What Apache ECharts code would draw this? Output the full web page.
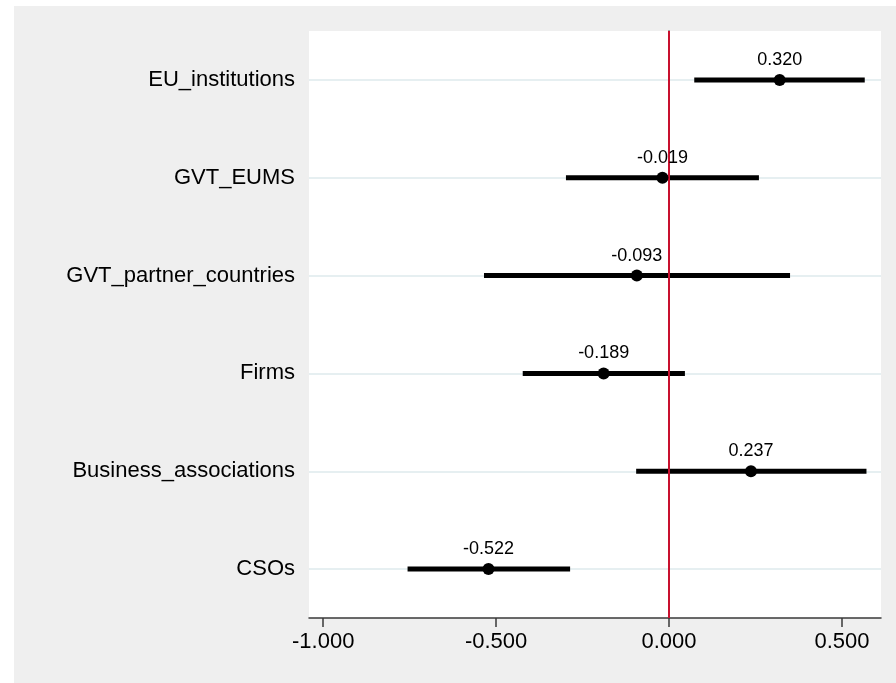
<!DOCTYPE html>
<html>
<head>
<meta charset="utf-8">
<script src="https://cdn.jsdelivr.net/npm/echarts@6/dist/echarts.min.js"></script>
<style>html,body{margin:0;padding:0;background:#fff}#c{width:896px;height:683px}</style>
</head>
<body>
<div id="c"></div>
<script>
// Categories, top to bottom
const categories = ['EU_institutions', 'GVT_EUMS', 'GVT_partner_countries', 'Firms', 'Business_associations', 'CSOs'];
// Point estimates
const estimates = [0.320, -0.019, -0.093, -0.189, 0.237, -0.522];
// Confidence interval lower / upper bounds
const ciLower = [0.073, -0.298, -0.535, -0.423, -0.095, -0.756];
const ciUpper = [0.566, 0.260, 0.350, 0.046, 0.571, -0.286];
// X axis tick labels
const xTicks = [-1.0, -0.5, 0.0, 0.5];

const FONT = '"Liberation Sans", Arial, Helvetica, sans-serif';
const chart = echarts.init(document.getElementById('c'), null, {renderer: 'canvas'});

const ciData = categories.map((c, i) => [ciLower[i], ciUpper[i], c]);
const ptData = categories.map((c, i) => [estimates[i], c]);

chart.setOption({
  backgroundColor: '#ffffff',
  animation: false,
  graphic: [{
    type: 'rect', z: -100, silent: true,
    shape: {x: 14, y: 6, width: 882, height: 677},
    style: {fill: '#efefef'}
  }],
  grid: {left: 309, right: 15, top: 31, bottom: 65, show: true, backgroundColor: '#ffffff', borderWidth: 0},
  xAxis: {
    type: 'value', min: -1.041, max: 0.613,
    axisLine: {show: true, onZero: false, lineStyle: {color: '#3a3a3a', width: 1.5}},
    axisTick: {show: true, length: 9, customValues: xTicks, lineStyle: {color: '#3a3a3a', width: 1.5}},
    axisLabel: {customValues: xTicks, formatter: v => v.toFixed(3), fontSize: 22, color: '#000', fontFamily: FONT, margin: 13},
    splitLine: {show: false}
  },
  yAxis: {
    type: 'category', inverse: true, data: categories,
    axisLine: {show: true, lineStyle: {color: '#3a3a3a', width: 1.5}},
    axisTick: {show: true, alignWithLabel: true, length: 8, lineStyle: {color: '#3a3a3a', width: 1.5}},
    axisLabel: {fontSize: 22, color: '#000', fontFamily: FONT, margin: 14},
    splitLine: {show: false}
  },
  series: [
    {
      type: 'scatter', data: [], z: 1, silent: true,
      markLine: {
        z: 1, silent: true, symbol: ['none', 'none'], label: {show: false},
        lineStyle: {color: '#e6eff1', width: 2, type: 'solid', opacity: 1},
        emphasis: {disabled: true},
        data: categories.map(c => ({yAxis: c}))
      }
    },
    {
      type: 'custom', z: 3, data: ciData, silent: true,
      encode: {x: [0, 1], y: 2},
      renderItem: function (params, api) {
        const y = api.value(2);
        const p1 = api.coord([api.value(0), y]);
        const p2 = api.coord([api.value(1), y]);
        return {
          type: 'rect',
          shape: {x: p1[0], y: p1[1] - 2.5, width: p2[0] - p1[0], height: 5},
          style: {fill: '#000', stroke: null}
        };
      }
    },
    {
      type: 'scatter', z: 5, data: ptData, symbol: 'circle', symbolSize: 12, silent: true,
      itemStyle: {color: '#000', opacity: 1},
      label: {
        show: true, position: 'top', distance: 5,
        formatter: p => p.value[0].toFixed(3),
        fontSize: 18, color: '#000', fontFamily: FONT
      },
      markLine: {
        z: 4, silent: true, symbol: ['none', 'none'], label: {show: false},
        lineStyle: {color: '#c8102e', width: 2, type: 'solid', opacity: 1},
        emphasis: {disabled: true},
        data: [{xAxis: 0}]
      }
    }
  ]
});
</script>
</body>
</html>
